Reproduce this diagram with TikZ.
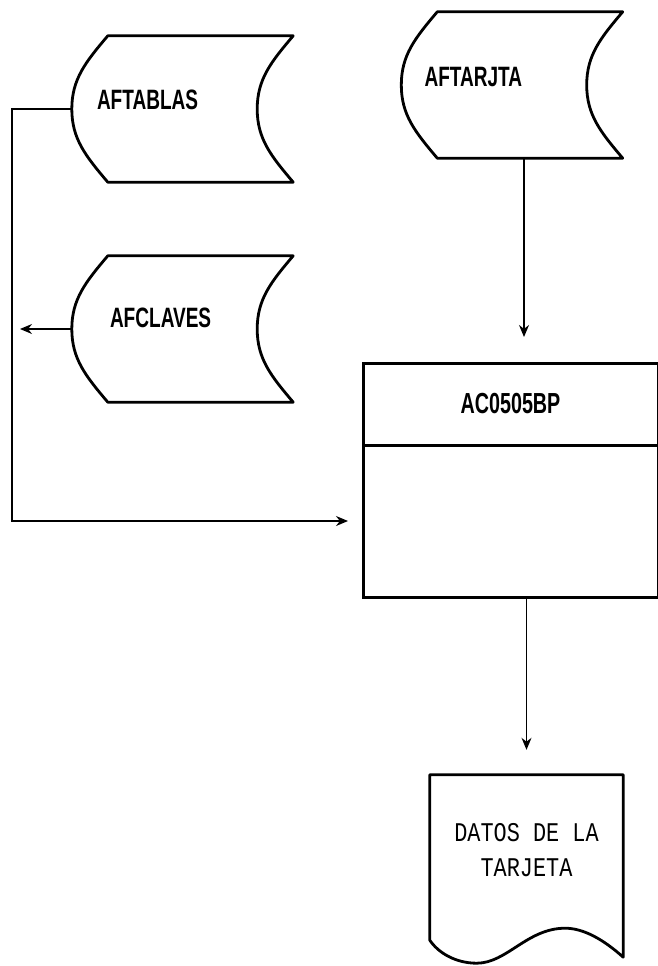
\documentclass[tikz,border=0pt]{standalone}
\usepackage{fontspec}
\usepackage{tikz}
\usetikzlibrary{positioning, arrows.meta}
\newfontfamily\tagfont[FakeStretch=0.68]{Liberation Sans Bold}
\newfontfamily\printfont[FakeStretch=0.81]{Liberation Mono}
\tikzset{
>={Stealth[length=12pt, width=10pt]}, % filled arrow heads
flow/.style={->, line width=1.2pt}, % the connectors
stored/.style={minimum width=221pt, minimum height=146pt, inner sep=0pt}, % stored data files
outline/.style={line width=2.8pt, line join=round},
procbox/.style={draw, line width=3pt, outer sep=0pt, minimum width=295pt},
report/.style={minimum width=193pt, minimum height=188pt, inner sep=0pt}, % printed output
tagtext/.style={font=\tagfont\fontsize{28}{30}\selectfont, inner sep=0pt, anchor=west},
}
% outline of a stored data file, drawn round a named node
\newcommand{\storedoutline}[1]{%
  \draw[outline] ([xshift=36pt]#1.north west) -- (#1.north east)
    .. controls +(-22,-26) and +(0,30) .. ([xshift=-36pt]#1.east)
    .. controls +(0,-30) and +(-22,26) .. (#1.south east)
    -- ([xshift=36pt]#1.south west)
    .. controls +(-22,26) and +(0,-30) .. (#1.west)
    .. controls +(0,30) and +(-22,-26) .. ([xshift=36pt]#1.north west) -- cycle;}
% outline of a printed document
\newcommand{\reportoutline}[1]{%
  \draw[outline] (#1.north west) -- (#1.north east) -- ([yshift=6pt]#1.south east)
    .. controls +(-20,18) and +(18,0) .. ([shift={(-58pt,35pt)}]#1.south east)
    .. controls +(-38,0) and +(30,0) .. ([xshift=47pt]#1.south west)
    .. controls +(-22,0) and +(8,-12) .. ([yshift=23pt]#1.south west) -- cycle;}

\begin{document}
\begin{tikzpicture}[x=1pt, y=1pt]
    \useasboundingbox (0,0) rectangle (658,-966);

    \node[stored] (tablas) at (182.5,-109) {};
    \node[stored] (tarjta) at (512,-85) {};
    \node[stored] (claves) at (182.5,-329) {};
    \storedoutline{tablas}
    \storedoutline{tarjta}
    \storedoutline{claves}
    \node[tagtext] (tablas-name) at ([shift={(25pt,9pt)}]tablas.west) {AFTABLAS};
    \node[tagtext] (tarjta-name) at ([shift={(23pt,8pt)}]tarjta.west) {AFTARJTA};
    \node[tagtext] (claves-name) at ([shift={(38pt,11pt)}]claves.west) {AFCLAVES};

    \node[procbox, minimum height=82pt, font=\tagfont\fontsize{29}{31}\selectfont] (prog) at (510.5,-404) {AC0505BP};
    \node[procbox, minimum height=152pt, below=0pt of prog] (progbody) {};

    \node[report] (datos) at (526.5,-869) {};
    \reportoutline{datos}
    \node[font=\printfont\fontsize{27}{35}\selectfont, align=center, inner sep=0pt] (datos-name)
        at ([yshift=-75pt]datos.north) {DATOS DE LA\\TARJETA};

    \coordinate (rail) at (12,0);
    \draw[flow, shorten >=15pt] (tablas.west) -- (tablas.west -| rail) |- (progbody.west);
    \draw[flow, shorten >=8pt] (claves.west) -- (claves.west -| rail);
    \draw[flow, shorten >=26pt] ([xshift=12pt]tarjta.south) -- ([xshift=12pt]tarjta.south |- prog.north);
    \draw[flow, shorten >=25pt] (datos.north |- progbody.south) -- (datos.north);
\end{tikzpicture}
\end{document}
